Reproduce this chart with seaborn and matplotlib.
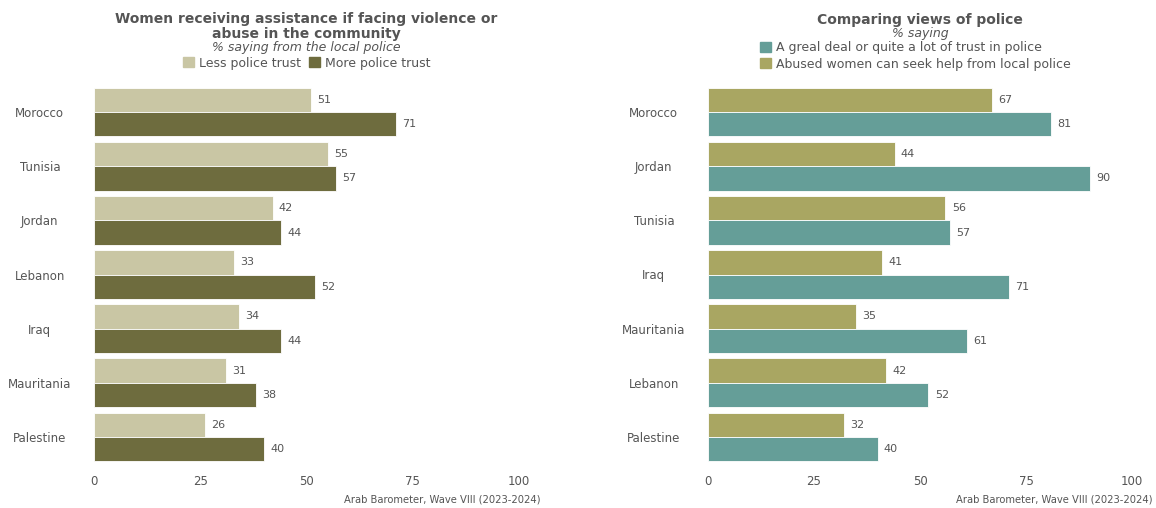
import matplotlib
matplotlib.use("Agg")
import matplotlib.pyplot as plt
import seaborn as sns
import pandas as pd
from matplotlib.patches import Patch

# ---- data ----
left_countries = ["Morocco", "Tunisia", "Jordan", "Lebanon", "Iraq", "Mauritania", "Palestine"]
left_less = [51, 55, 42, 33, 34, 31, 26]
left_more = [71, 57, 44, 52, 44, 38, 40]
left_series = ["Less police trust", "More police trust"]

right_countries = ["Morocco", "Jordan", "Tunisia", "Iraq", "Mauritania", "Lebanon", "Palestine"]
right_help = [67, 44, 56, 41, 35, 42, 32]
right_trust = [81, 90, 57, 71, 61, 52, 40]
right_series = ["Abused women can seek help from local police",
                "A greal deal or quite a lot of trust in police"]

x_ticks = [0, 25, 50, 75, 100]
source = "Arab Barometer, Wave VIII (2023-2024)"

# ---- styling ----
sns.set_theme(style="white")
plt.rcParams["font.family"] = ["DejaVu Sans"]
GRAY = "#555555"
LIGHT, DARK = "#c9c6a4", "#6e6c3e"
OLIVE, TEAL = "#a9a662", "#659e98"

W, H = 1156, 508
fig = plt.figure(figsize=(W / 100, H / 100), dpi=100)

def px_axes(x0, x1, y0, y1):
    return fig.add_axes([x0 / W, 1 - y1 / H, (x1 - x0) / W, (y1 - y0) / H])

axL = px_axes(94, 519, 85, 464)
axR = px_axes(708, 1132, 85, 464)

dfL = pd.DataFrame({
    "country": left_countries * 2,
    "value": left_less + left_more,
    "series": [left_series[0]] * len(left_countries) + [left_series[1]] * len(left_countries),
})
dfR = pd.DataFrame({
    "country": right_countries * 2,
    "value": right_help + right_trust,
    "series": [right_series[0]] * len(right_countries) + [right_series[1]] * len(right_countries),
})

def draw(ax, df, order, hue_order, colors, caption_x):
    sns.barplot(data=df, x="value", y="country", hue="series", order=order,
                hue_order=hue_order, palette=colors, saturation=1, orient="h", width=0.9,
                edgecolor="white", linewidth=0.6, ax=ax, legend=False)
    for cont in ax.containers:
        ax.bar_label(cont, fmt="%g", padding=4.5, fontsize=8, color=GRAY)
    ax.set_xlim(0, 100)
    ax.set_ylim(6.5, -0.5)
    ax.set_xticks(x_ticks)
    ax.set_xlabel("")
    ax.set_ylabel("")
    for s in ax.spines.values():
        s.set_visible(False)
    ax.tick_params(axis="both", length=0, colors=GRAY, labelsize=8.5)
    ax.tick_params(axis="x", pad=8)
    ax.tick_params(axis="y", pad=39)
    for lab in ax.get_yticklabels():
        lab.set_ha("center")
    ax.grid(False)
    fig.text(caption_x / W, 1 - 500 / H, source, ha="right", va="center",
             fontsize=7.2, color=GRAY)

draw(axL, dfL, left_countries, left_series, [LIGHT, DARK], 540)
draw(axR, dfR, right_countries, right_series, [OLIVE, TEAL], 1153)

# ---- titles ----
cxL = (94 + 519) / 2 / W
cxR = (708 + 1132) / 2 / W
fig.text(cxL, 1 - 26.5 / H, "Women receiving assistance if facing violence or\nabuse in the community",
         ha="center", va="center", fontsize=10, fontweight="bold", color=GRAY, linespacing=1.05)
fig.text(cxL, 1 - 47.5 / H, "% saying from the local police", ha="center", va="center",
         fontsize=9, style="italic", color=GRAY)
fig.text(cxR, 1 - 20 / H, "Comparing views of police", ha="center", va="center",
         fontsize=10, fontweight="bold", color=GRAY)
fig.text(cxR, 1 - 33 / H, "% saying", ha="center", va="center",
         fontsize=9, style="italic", color=GRAY)

legL = fig.legend(handles=[Patch(color=LIGHT, label=left_series[0]),
                           Patch(color=DARK, label=left_series[1])],
                  loc="center", bbox_to_anchor=(cxL, 1 - 63 / H), ncol=2, frameon=False,
                  fontsize=9, handlelength=0.9, handleheight=0.9, handletextpad=0.4,
                  columnspacing=0.6, borderaxespad=0, borderpad=0)
for t in legL.get_texts():
    t.set_color(GRAY)

legR = fig.legend(handles=[Patch(color=TEAL, label=right_series[1]),
                           Patch(color=OLIVE, label=right_series[0])],
                  loc="center left", bbox_to_anchor=(760 / W, 1 - 56 / H), ncol=1, frameon=False,
                  fontsize=9, handlelength=0.9, handleheight=0.9, handletextpad=0.4,
                  labelspacing=0.25, borderaxespad=0, borderpad=0)
for t in legR.get_texts():
    t.set_color(GRAY)

fig.savefig("out.png", dpi=100)
